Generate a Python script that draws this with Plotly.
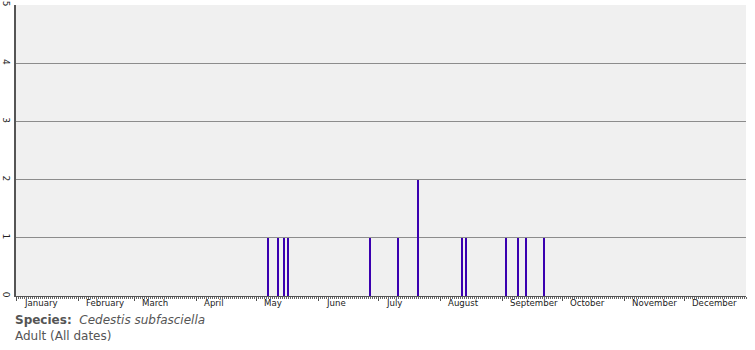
import plotly.graph_objects as go

# Data
months = ["January", "February", "March", "April", "May", "June", "July",
          "August", "September", "October", "November", "December"]
month_start_day = [0, 31, 59, 90, 120, 151, 181, 212, 243, 273, 304, 334]
record_day = [126, 131, 134, 136, 177, 191, 201, 223, 225, 245, 251, 255, 264]
record_count = [1, 1, 1, 1, 1, 1, 2, 1, 1, 1, 1, 1, 1]
y_ticks = [0, 1, 2, 3, 4, 5]

fig = go.Figure()
fig.add_trace(go.Bar(
    x=record_day, y=record_count, width=0.45,
    marker=dict(color="#3a00b0", line=dict(width=0)),
    hoverinfo="skip",
))

fig.update_layout(
    width=755, height=350,
    margin=dict(l=16, r=9, t=5, b=54, autoexpand=False),
    paper_bgcolor="white", plot_bgcolor="#f0f0f0",
    showlegend=False,
    font=dict(family="DejaVu Sans", size=8, color="#333"),
    bargap=0,
)
fig.update_xaxes(
    range=[0, 365], tickmode="array", tickvals=month_start_day,
    ticktext=[""] * len(month_start_day), automargin=False,
    ticks="outside", ticklen=4, tickcolor="#555", tickwidth=1,
    showgrid=False, zeroline=False,
    showline=True, linecolor="#555", linewidth=1,
    minor=dict(tickmode="linear", tick0=0, dtick=1, ticks="outside",
               ticklen=2, tickcolor="#666", tickwidth=1, showgrid=False),
)
fig.update_yaxes(
    range=[0, 5], tickmode="array", tickvals=y_ticks,
    ticktext=[str(v) for v in y_ticks], tickangle=90, automargin=False,
    ticks="", ticklabelstandoff=0,
    showgrid=True, gridcolor="#8c8c8c", gridwidth=1,
    zeroline=False, showline=True, linecolor="#555", linewidth=2,
    tickfont=dict(family="DejaVu Sans", size=9, color="#222"),
)

for m, d in zip(months, month_start_day):
    fig.add_annotation(
        x=d + 3, y=0, xref="x", yref="paper", yshift=0,
        text=m, showarrow=False, xanchor="left", yanchor="top",
        font=dict(family="DejaVu Sans", size=8.6, color="#222"),
    )

fig.add_annotation(
    x=0, y=0, xref="paper", yref="paper", xanchor="left", yanchor="top",
    xshift=-3, yshift=-15, showarrow=False,
    text="<b>Species:</b>  <i>Cedestis subfasciella</i>",
    font=dict(family="DejaVu Sans", size=12, color="#555"),
)
fig.add_annotation(
    x=0, y=0, xref="paper", yref="paper", xanchor="left", yanchor="top",
    xshift=-3, yshift=-31, showarrow=False,
    text="Adult (All dates)",
    font=dict(family="DejaVu Sans", size=12, color="#555"),
)

fig.write_html("out.html")
